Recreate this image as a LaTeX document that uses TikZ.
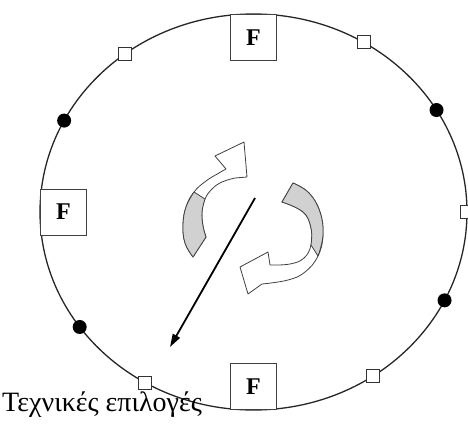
\documentclass[tikz,border=0pt]{standalone}
\usepackage{fontspec}
\setmainfont{Liberation Serif}
\usetikzlibrary{arrows.meta,positioning}

\begin{document}
\begin{tikzpicture}[
  x=1pt, y=-1pt,
  fbox/.style={draw=black!75, fill=white, line width=0.9pt, minimum size=46pt, inner sep=0pt, font=\fontsize{24}{24}\selectfont\bfseries},
  port/.style={draw=black!80, fill=white, line width=0.9pt, minimum size=13pt, inner sep=0pt},
  pin/.style={circle, fill=black, minimum size=14pt, inner sep=0pt},
  rim/.style={line width=1.3pt, black!85},
  turn/.style={draw=black!75, line width=0.8pt, fill=white, line join=round},
  backside/.style={draw=black!75, line width=0.8pt, fill=black!18, line join=round},
  axis/.style={-{Triangle[length=13pt,width=8pt]}, line width=1.8pt},
  label/.style={inner sep=0pt, font=\fontsize{28}{28}\selectfont}
]
  \useasboundingbox (0,0) rectangle (468,423);

  % the rim and the points on it
  \coordinate (rimC) at (253.5,212);
  \draw[rim] (rimC) ellipse [x radius=213.5, y radius=198];

  \coordinate (rimN) at ([shift={(-90:213.5 and 198)}]rimC);
  \coordinate (rimS) at ([shift={(90:213.5 and 198)}]rimC);
  \coordinate (rimW) at ([shift={(180:213.5 and 198)}]rimC);

  \node[fbox,below=0pt of rimN] (topF) {F};
  \node[fbox,right=0pt of rimW] (leftF) {F};
  \node[fbox,above=0pt of rimS] (botF) {F};

  \node[port] (portNE) at ([shift={(-59:213.5 and 198)}]rimC) {};
  \node[port] (portE) at ([shift={(0:213.5 and 198)}]rimC) {};
  \node[port] (portSE) at ([shift={(56:213.5 and 198)}]rimC) {};
  \node[port] (portSW) at ([shift={(120.5:213.5 and 198)}]rimC) {};
  \node[port] (portNW) at ([shift={(233:213.5 and 198)}]rimC) {};
  \node[pin] (pinNE) at ([shift={(-31:213.5 and 198)}]rimC) {};
  \node[pin] (pinSE) at ([shift={(26.5:213.5 and 198)}]rimC) {};
  \node[pin] (pinSW) at ([shift={(144.5:213.5 and 198)}]rimC) {};
  \node[pin] (pinNW) at ([shift={(207.5:213.5 and 198)}]rimC) {};

  % rotation arrows
  \draw[turn] (206,237) -- plot[smooth, tension=0.7] coordinates {(193,257) (185,243) (183,225) (186,207) (194,192) (206,181) (219,173) (226,169)}
    -- (215,156) -- (244,142) -- (247,177)
    -- plot[smooth, tension=0.7] coordinates {(235,178) (222,182) (212,189) (205,199) (202,212) (203,226) (206,237)} -- cycle;
  \draw[backside] (206,237) -- plot[smooth, tension=0.7] coordinates {(193,257) (185,243) (183,225) (186,207) (194,192)}
    -- plot[smooth, tension=0.7] coordinates {(205,199) (202,212) (203,226) (206,237)} -- cycle;

  \draw[turn] (282,202) -- plot[smooth, tension=0.7] coordinates {(293,183) (309,193) (320,212) (323,235) (318,256) (305,272) (288,280) (262,284)}
    -- (248,294) -- (240,267) -- (268,252)
    -- plot[smooth, tension=0.7] coordinates {(270,265) (290,264) (304,258) (311,245) (311,228) (303,212) (282,202)} -- cycle;
  \draw[backside] (282,202) -- plot[smooth, tension=0.7] coordinates {(293,183) (309,193) (320,212) (323,235) (318,256)}
    -- plot[smooth, tension=0.7] coordinates {(311,245) (311,228) (303,212) (282,202)} -- cycle;

  \coordinate (axtop) at (255,198);
  \coordinate (axend) at (170,347);
  \draw[axis] (axtop) -- (axend);

  \node[label,anchor=base west] (techlabel) at (2,411) {Τεχνικές επιλογές};
\end{tikzpicture}
\end{document}
